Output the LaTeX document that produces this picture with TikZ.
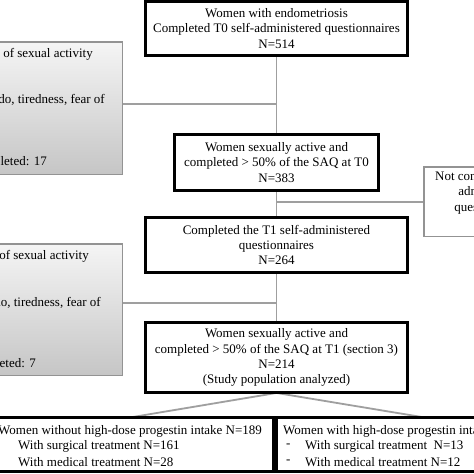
\documentclass[tikz,border=0pt]{standalone}
\usepackage{fontspec}
\setmainfont{Liberation Serif}
\begin{document}
\begin{tikzpicture}[x=1pt,y=-1pt,
  font=\fontsize{13}{15.2}\selectfont,
  mainbox/.style={draw=black, line width=1.9pt, fill=white, inner sep=0pt, align=center},
  sidebox/.style={draw=gray!85, line width=1pt, top color=gray!8, bottom color=gray!45, inner sep=0pt},
  plainbox/.style={draw=gray!85, line width=1pt, fill=white, inner sep=0pt},
  conn/.style={draw=gray!75, line width=1.8pt},
  txt/.style={inner sep=0pt}
]
\useasboundingbox (0,0) rectangle (474,474);
\clip (0,0) rectangle (474,474);
\fill[white] (0,0) rectangle (474,474);

% boxes
\node[mainbox, minimum width=261pt, minimum height=53pt] (b1) at (276.5,28.5)
  {Women with endometriosis\\Completed T0 self-administered questionnaires\\N=514};
\node[mainbox, minimum width=203pt, minimum height=55pt] (b2) at (276.5,162.5)
  {Women sexually active and\\completed > 50\% of the SAQ at T0\\N=383};
\node[mainbox, minimum width=261pt, minimum height=54pt] (b3) at (276.5,245)
  {Completed the T1 self-administered\\questionnaires\\N=264};
\node[mainbox, minimum width=261pt, minimum height=69pt] (b4) at (276.5,357.5)
  {Women sexually active and\\completed > 50\% of the SAQ at T1 (section 3)\\N=214\\(Study population analyzed)};

\node[sidebox, minimum width=152pt, minimum height=132pt] (lb1) at (46,108) {};
\node[sidebox, minimum width=152pt, minimum height=131pt] (lb2) at (46,309.5) {};
\node[plainbox, minimum width=130pt, minimum height=69pt] (nc) at (489,201.5) {};

\node[mainbox, minimum width=281pt, minimum height=53pt] (bl) at (132.5,444.5) {};
\node[mainbox, minimum width=290pt, minimum height=53pt] (br) at (422,444.5) {};

% connectors
\coordinate (j1) at (276.5,104);
\coordinate (j2) at (276.5,202);
\coordinate (j3) at (276.5,303);
\draw[conn] (b1.south) -- (b2.north);
\draw[conn] (j1) -- (j1 -| lb1.east);
\draw[conn] (b2.south) -- (b3.north);
\draw[conn] (j2) -- (j2 -| nc.west);
\draw[conn] (b3.south) -- (b4.north);
\draw[conn] (j3) -- (j3 -| lb2.east);
\draw[conn] (b4.south) -- (bl.north);
\draw[conn] (b4.south) -- (br.north);

% redraw borders on top of connectors
\draw[line width=1.9pt] (b1.south west) rectangle (b1.north east);
\draw[line width=1.9pt] (b2.south west) rectangle (b2.north east);
\draw[line width=1.9pt] (b3.south west) rectangle (b3.north east);
\draw[line width=1.9pt] (b4.south west) rectangle (b4.north east);
\draw[line width=1.9pt] (bl.south west) rectangle (bl.north east);
\draw[line width=1.9pt] (br.south west) rectangle (br.north east);
\draw[gray!85, line width=1pt] (lb1.south west) rectangle (lb1.north east);
\draw[gray!85, line width=1pt] (lb2.south west) rectangle (lb2.north east);
\draw[gray!85, line width=1pt] (nc.south west) rectangle (nc.north east);

% side texts
\node[txt, anchor=east] (l1a) at (93,54) {Lack of sexual activity};
\node[txt, anchor=east] (l1b) at (105,100) {Lack of libido, tiredness, fear of};
\node[txt, anchor=east] (l1c) at (47,162) {SAQ not completed: 17};
\node[txt, anchor=east] (l2a) at (89,256) {Lack of sexual activity};
\node[txt, anchor=east] (l2b) at (101,303) {Lack of libido, tiredness, fear of};
\node[txt, anchor=east] (l2c) at (36,364) {SAQ not completed: 7};
\node[txt, anchor=north, align=center] (nct) at (492,171.5)
  {Not completed the T1\\administered\\questionnaires};

% bottom texts
\node[txt, anchor=west] (bla) at (-2,431) {Women without high-dose progestin intake N=189};
\node[txt, anchor=west] (blb) at (18,446) {With surgical treatment N=161};
\node[txt, anchor=west] (blc) at (18,462) {With medical treatment N=28};
\node[txt, anchor=west] (bra) at (283,431) {Women with high-dose progestin intake N=25};
\node[txt, anchor=west] (brd1) at (286,446) {-};
\node[txt, anchor=west] (brb) at (305,446) {With surgical treatment\ \ N=13};
\node[txt, anchor=west] (brd2) at (286,462) {-};
\node[txt, anchor=west] (brc) at (305,462) {With medical treatment N=12};
\end{tikzpicture}
\end{document}
